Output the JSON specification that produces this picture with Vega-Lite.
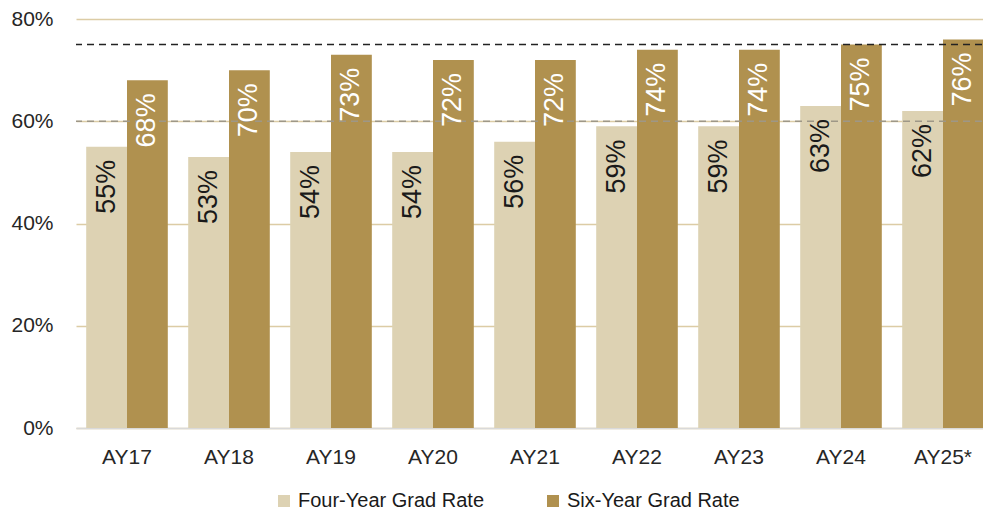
{
  "$schema": "https://vega.github.io/schema/vega-lite/v6.json",
  "autosize": {"type": "none"},
  "padding": {"left": 76, "top": 19, "right": 0, "bottom": 86},
  "width": 918,
  "height": 409,
  "background": "white",
  "config": {
    "view": {"stroke": null},
    "font": "Liberation Sans"
  },
  "datasets": {
    "rates": [
      {"year": "AY17", "series": "Four-Year Grad Rate", "rate": 0.55},
      {"year": "AY17", "series": "Six-Year Grad Rate", "rate": 0.68},
      {"year": "AY18", "series": "Four-Year Grad Rate", "rate": 0.53},
      {"year": "AY18", "series": "Six-Year Grad Rate", "rate": 0.70},
      {"year": "AY19", "series": "Four-Year Grad Rate", "rate": 0.54},
      {"year": "AY19", "series": "Six-Year Grad Rate", "rate": 0.73},
      {"year": "AY20", "series": "Four-Year Grad Rate", "rate": 0.54},
      {"year": "AY20", "series": "Six-Year Grad Rate", "rate": 0.72},
      {"year": "AY21", "series": "Four-Year Grad Rate", "rate": 0.56},
      {"year": "AY21", "series": "Six-Year Grad Rate", "rate": 0.72},
      {"year": "AY22", "series": "Four-Year Grad Rate", "rate": 0.59},
      {"year": "AY22", "series": "Six-Year Grad Rate", "rate": 0.74},
      {"year": "AY23", "series": "Four-Year Grad Rate", "rate": 0.59},
      {"year": "AY23", "series": "Six-Year Grad Rate", "rate": 0.74},
      {"year": "AY24", "series": "Four-Year Grad Rate", "rate": 0.63},
      {"year": "AY24", "series": "Six-Year Grad Rate", "rate": 0.75},
      {"year": "AY25*", "series": "Four-Year Grad Rate", "rate": 0.62},
      {"year": "AY25*", "series": "Six-Year Grad Rate", "rate": 0.76}
    ],
    "targets": [
      {"name": "upper", "rate": 0.75},
      {"name": "lower", "rate": 0.60}
    ]
  },
  "layer": [
    {
      "data": {"name": "rates"},
      "mark": {"type": "bar"},
      "encoding": {
        "x": {
          "field": "year", "type": "nominal", "sort": null,
          "scale": {"paddingInner": 0.2, "paddingOuter": 0.1},
          "axis": {
            "title": null, "labelAngle": 0, "labelFontSize": 21, "labelColor": "#262626",
            "labelPadding": 18, "ticks": false, "domainColor": "#d9d9d9", "domainWidth": 1.5
          }
        },
        "xOffset": {"field": "series", "type": "nominal", "scale": {"paddingInner": 0, "paddingOuter": 0}},
        "y": {
          "field": "rate", "type": "quantitative",
          "scale": {"domain": [0, 0.8], "nice": false},
          "axis": {
            "title": null, "values": [0, 0.2, 0.4, 0.6, 0.8], "format": ".0%",
            "labelFontSize": 21, "labelColor": "#262626", "labelPadding": 23,
            "ticks": false, "domain": false, "gridColor": "#dccca5", "gridWidth": 1.5
          }
        },
        "color": {
          "field": "series", "type": "nominal",
          "scale": {"domain": ["Four-Year Grad Rate", "Six-Year Grad Rate"], "range": ["#ddd2b3", "#b0914f"]},
          "legend": {
            "title": null, "orient": "none", "legendX": 198, "legendY": 472, "direction": "horizontal",
            "labelFontSize": 20, "labelColor": "#1a1a1a", "labelLimit": 400, "symbolType": "square",
            "symbolSize": 144, "symbolStrokeWidth": 0, "columnPadding": 58, "labelOffset": 4, "padding": 0
          }
        }
      }
    },
    {
      "data": {"name": "targets"},
      "mark": {"type": "rule", "strokeDash": [7, 5], "strokeWidth": 1.5},
      "encoding": {
        "y": {"field": "rate", "type": "quantitative"},
        "color": {
          "condition": {"test": "datum.name === 'upper'", "value": "#222222"},
          "value": "#9e9787"
        }
      }
    },
    {
      "data": {"name": "rates"},
      "mark": {"type": "text", "angle": 270, "align": "right", "baseline": "middle", "dx": -13, "fontSize": 27},
      "encoding": {
        "x": {"field": "year", "type": "nominal", "sort": null},
        "xOffset": {"field": "series", "type": "nominal"},
        "y": {"field": "rate", "type": "quantitative"},
        "text": {"field": "rate", "type": "quantitative", "format": ".0%"},
        "color": {
          "condition": {"test": "datum.series === 'Six-Year Grad Rate'", "value": "#ffffff"},
          "value": "#1a1a1a"
        }
      }
    }
  ]
}
